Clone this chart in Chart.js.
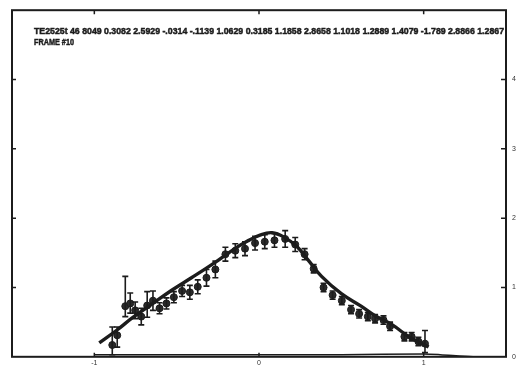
<!DOCTYPE html>
<html>
<head>
<meta charset="utf-8">
<title>Frame 10 fit</title>
<script src="https://cdn.jsdelivr.net/npm/chart.js@4.4.1/dist/chart.umd.min.js"></script>
<style>
  html, body { margin: 0; padding: 0; background: #fff; }
  #wrap { width: 523px; height: 367px; position: relative; }
</style>
</head>
<body>
<div id="wrap"><canvas id="fitChart"></canvas></div>
<script>
// header lines printed inside the frame
const headerLine = 'TE2525t 46 8049 0.3082 2.5929 -.0314 -.1139 1.0629 0.3185 1.1858 2.8658 1.1018 1.2889 1.4079 -1.789 2.8866 1.2867';
const frameLine = 'FRAME #10';

// axis ticks
const xTicks = [-1, 0, 1];
const yTicks = [0, 1, 2, 3, 4];

// measured points
const dataX = [-0.891, -0.861, -0.812, -0.782, -0.752, -0.715, -0.679, -0.644, -0.604, -0.562,
               -0.517, -0.467, -0.420, -0.372, -0.319, -0.265, -0.204, -0.144, -0.085, -0.024,
               0.035, 0.094, 0.159, 0.220, 0.277, 0.332, 0.392, 0.447, 0.503, 0.559,
               0.608, 0.661, 0.705, 0.756, 0.796, 0.883, 0.927, 0.968, 1.008];
const dataY = [0.17, 0.31, 0.73, 0.77, 0.67, 0.58, 0.74, 0.81, 0.70, 0.77,
               0.86, 0.95, 0.93, 1.01, 1.14, 1.26, 1.48, 1.53, 1.56, 1.64,
               1.66, 1.68, 1.70, 1.62, 1.48, 1.27, 1.00, 0.89, 0.81, 0.68,
               0.62, 0.58, 0.55, 0.53, 0.44, 0.29, 0.29, 0.22, 0.19];
const errHi = [0.26, 0.12, 0.43, 0.15, 0.12, 0.12, 0.20, 0.14, 0.08, 0.08,
               0.08, 0.08, 0.10, 0.10, 0.12, 0.12, 0.10, 0.10, 0.10, 0.10,
               0.10, 0.10, 0.12, 0.10, 0.08, 0.06, 0.06, 0.06, 0.06, 0.06,
               0.06, 0.06, 0.06, 0.06, 0.06, 0.06, 0.06, 0.06, 0.19];
const errLo = [0.14, 0.17, 0.15, 0.14, 0.12, 0.12, 0.17, 0.14, 0.08, 0.08,
               0.08, 0.08, 0.10, 0.10, 0.12, 0.12, 0.10, 0.10, 0.10, 0.10,
               0.10, 0.10, 0.12, 0.10, 0.08, 0.06, 0.06, 0.06, 0.06, 0.06,
               0.06, 0.06, 0.06, 0.06, 0.06, 0.06, 0.06, 0.06, 0.13];

// fitted profile
const fitX = [-0.97, -0.86, -0.77, -0.65, -0.53, -0.41, -0.28, -0.16, -0.07, 0.01,
              0.08, 0.15, 0.23, 0.30, 0.38, 0.50, 0.62, 0.70, 0.81, 0.91, 1.03];
const fitY = [0.20, 0.39, 0.56, 0.76, 0.96, 1.14, 1.34, 1.54, 1.67, 1.76,
              1.79, 1.73, 1.59, 1.39, 1.16, 0.91, 0.73, 0.60, 0.46, 0.29, 0.14];

// background level along the floor
const baseX = [-1.0, -0.5, 0.0, 0.5, 1.0, 1.1, 1.3, 1.5];
const baseY = [0.03, 0.03, 0.03, 0.03, 0.04, 0.03, 0.0, 0.0];

const ink = '#1c1c1c';

const toXY = (xs, ys) => xs.map((x, i) => ({ x: x, y: ys[i] }));

// error bars on the measured points
const errorBars = {
    id: 'errorBars',
    afterDatasetDraw(chart, args) {
        if (args.index !== 1) return;
        const ctx = chart.ctx;
        const xs = chart.scales.x, ys = chart.scales.y;
        ctx.save();
        ctx.strokeStyle = ink;
        ctx.lineWidth = 1.6;
        dataX.forEach((x, i) => {
            const px = xs.getPixelForValue(x);
            const top = ys.getPixelForValue(dataY[i] + errHi[i]);
            const bot = ys.getPixelForValue(Math.max(0, dataY[i] - errLo[i]));
            ctx.beginPath();
            ctx.moveTo(px, top); ctx.lineTo(px, bot);
            ctx.moveTo(px - 3, top); ctx.lineTo(px + 3, top);
            ctx.moveTo(px - 3, bot); ctx.lineTo(px + 3, bot);
            ctx.stroke();
        });
        ctx.restore();
    }
};

// box frame, inward ticks and header text
const frame = {
    id: 'frame',
    afterDraw(chart) {
        const ctx = chart.ctx;
        const a = chart.chartArea;
        const xs = chart.scales.x, ys = chart.scales.y;
        ctx.save();
        ctx.strokeStyle = ink;
        ctx.lineWidth = 2;
        ctx.strokeRect(a.left, a.top, a.right - a.left, a.bottom - a.top);
        ctx.lineWidth = 1.5;
        ctx.beginPath();
        xTicks.forEach(v => {
            const px = xs.getPixelForValue(v);
            ctx.moveTo(px, a.bottom); ctx.lineTo(px, a.bottom - 4);
            ctx.moveTo(px, a.top); ctx.lineTo(px, a.top + 4);
        });
        yTicks.slice(1).forEach(v => {
            const py = ys.getPixelForValue(v);
            ctx.moveTo(a.right, py); ctx.lineTo(a.right - 5, py);
            ctx.moveTo(a.left, py); ctx.lineTo(a.left + 4, py);
        });
        ctx.stroke();

        // heavy typewriter-like header: fill plus a thin stroke
        ctx.fillStyle = ink;
        ctx.lineWidth = 0.5;
        ctx.font = 'bold 9.5px "Liberation Sans", Arial, sans-serif';
        ctx.textBaseline = 'alphabetic';
        ctx.fillText(headerLine, 34, 34, a.right - 36);
        ctx.strokeText(headerLine, 34, 34, a.right - 36);
        ctx.fillText(frameLine, 34, 45, 40);
        ctx.strokeText(frameLine, 34, 45, 40);
        ctx.restore();
    }
};

new Chart(document.getElementById('fitChart'), {
    type: 'scatter',
    data: {
        datasets: [
            {
                label: 'fit',
                type: 'line',
                data: toXY(fitX, fitY),
                borderColor: ink,
                borderWidth: 3.4,
                pointRadius: 0,
                tension: 0.4,
                fill: false
            },
            {
                label: 'data',
                data: toXY(dataX, dataY),
                pointRadius: 3.5,
                pointBackgroundColor: '#2a2a2a',
                pointBorderColor: ink,
                pointBorderWidth: 1
            },
            {
                label: 'background',
                type: 'line',
                data: toXY(baseX, baseY),
                borderColor: ink,
                borderWidth: 1.5,
                pointRadius: 0,
                tension: 0.3,
                fill: false
            }
        ]
    },
    options: {
        responsive: true,
        maintainAspectRatio: false,
        animation: false,
        devicePixelRatio: 1,
        layout: { padding: { left: 12, top: 4, right: 0, bottom: 0 } },
        plugins: {
            legend: { display: false },
            tooltip: { enabled: false }
        },
        scales: {
            x: {
                type: 'linear',
                min: -1.5,
                max: 1.5,
                afterBuildTicks: s => { s.ticks = xTicks.map(v => ({ value: v })); },
                afterFit: s => { s.height = 10; },
                grid: { display: false, drawTicks: false },
                border: { display: false },
                ticks: { color: '#333', font: { size: 7, family: 'Liberation Sans' }, padding: 2, maxRotation: 0 }
            },
            y: {
                type: 'linear',
                position: 'right',
                min: 0,
                max: 5,
                afterBuildTicks: s => { s.ticks = yTicks.map(v => ({ value: v })); },
                afterFit: s => { s.width = 17; },
                grid: { display: false, drawTicks: false },
                border: { display: false },
                ticks: { color: '#333', font: { size: 7, family: 'Liberation Sans' }, padding: 6 }
            }
        }
    },
    plugins: [errorBars, frame]
});
</script>
</body>
</html>
